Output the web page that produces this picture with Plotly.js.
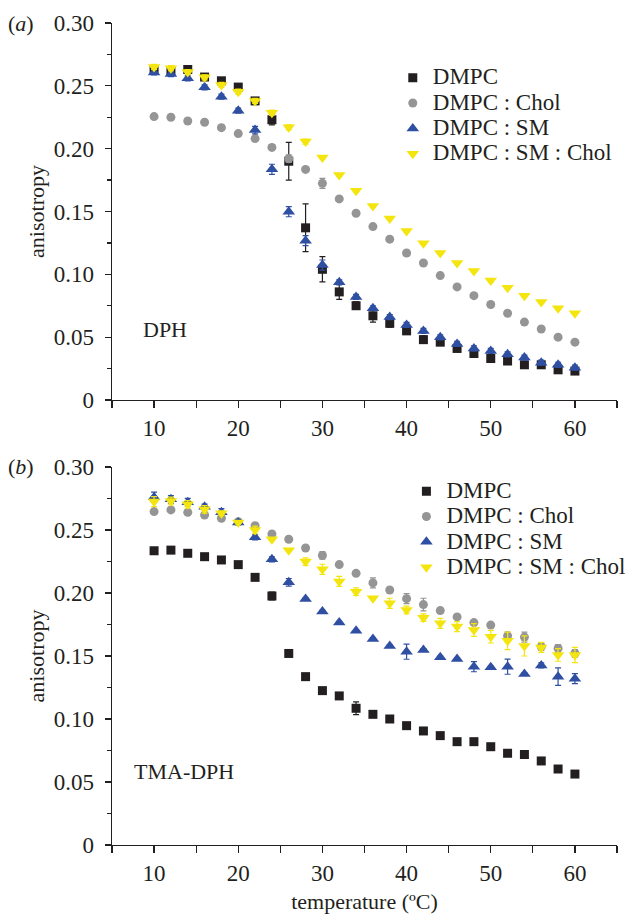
<!DOCTYPE html>
<html><head><meta charset="utf-8">
<script src="https://cdn.plot.ly/plotly-3.0.1.min.js"></script>
<style>html,body{margin:0;padding:0;background:#fff}#chart{width:628px;height:914px}</style>
</head><body><div id="chart"></div>
<script>
const temperature = [10,12,14,16,18,20,22,24,26,28,30,32,34,36,38,40,42,44,46,48,50,52,54,56,58,60];
const seriesNames = ['DMPC', 'DMPC : Chol', 'DMPC : SM', 'DMPC : SM : Chol'];

// Panel (a): DPH
const dphDMPC     = [0.263,0.262,0.263,0.257,0.254,0.249,0.238,0.223,0.190,0.137,0.104,0.086,0.075,0.067,0.061,0.055,0.048,0.046,0.041,0.037,0.033,0.031,0.028,0.028,0.024,0.023];
const dphDMPCerr  = [0.002,0.002,0.003,0.002,0.002,0.002,0.002,0.004,0.015,0.019,0.010,0.006,0.003,0.005,0.003,0.002,0.003,0.002,0.002,0.002,0.002,0.002,0.002,0.002,0.002,0.002];
const dphChol     = [0.2255,0.225,0.222,0.221,0.2167,0.212,0.208,0.201,0.192,0.1835,0.1724,0.160,0.1486,0.138,0.128,0.117,0.109,0.099,0.090,0.083,0.076,0.069,0.062,0.0565,0.050,0.046];
const dphCholErr  = [0.001,0.001,0.001,0.001,0.001,0.001,0.001,0.002,0.003,0.001,0.004,0.001,0.001,0.001,0.001,0.001,0.001,0.001,0.001,0.001,0.001,0.001,0.001,0.001,0.001,0.002];
const dphSM       = [0.2607,0.2594,0.256,0.2488,0.2414,0.2302,0.2148,0.1836,0.1498,0.1268,0.1074,0.0936,0.082,0.073,0.066,0.0597,0.0549,0.0499,0.0446,0.041,0.039,0.0363,0.0337,0.0297,0.028,0.0257];
const dphSMerr    = [0.002,0.002,0.002,0.002,0.002,0.002,0.003,0.004,0.004,0.004,0.004,0.002,0.002,0.002,0.002,0.002,0.002,0.002,0.002,0.002,0.002,0.002,0.002,0.002,0.002,0.002];
const dphSMChol   = [0.265,0.264,0.261,0.2568,0.2507,0.2453,0.238,0.2286,0.217,0.2056,0.193,0.179,0.1666,0.1544,0.1445,0.1345,0.1247,0.117,0.109,0.1026,0.095,0.0894,0.083,0.078,0.073,0.069];
const dphSMCholErr= [0.002,0.002,0.002,0.002,0.002,0.002,0.002,0.002,0.002,0.002,0.001,0.001,0.001,0.001,0.001,0.001,0.001,0.001,0.001,0.001,0.001,0.001,0.001,0.001,0.001,0.001];

// Panel (b): TMA-DPH
const tmaDMPC     = [0.2335,0.234,0.2315,0.2288,0.2262,0.2225,0.2124,0.1976,0.152,0.1336,0.1225,0.1183,0.1085,0.1037,0.100,0.0947,0.0905,0.0868,0.082,0.082,0.078,0.0728,0.0718,0.0667,0.0603,0.0563];
const tmaDMPCerr  = [0.001,0.001,0.001,0.001,0.001,0.001,0.002,0.003,0.001,0.001,0.001,0.001,0.005,0.001,0.001,0.001,0.001,0.001,0.001,0.001,0.001,0.001,0.001,0.001,0.001,0.001];
const tmaChol     = [0.2646,0.2659,0.264,0.2619,0.2593,0.2566,0.2534,0.2468,0.2426,0.2357,0.2298,0.2225,0.2156,0.208,0.2024,0.1955,0.1908,0.186,0.181,0.1765,0.1745,0.166,0.165,0.1574,0.156,0.152];
const tmaCholErr  = [0.001,0.001,0.001,0.001,0.001,0.001,0.001,0.001,0.001,0.001,0.003,0.001,0.001,0.004,0.001,0.004,0.005,0.002,0.001,0.001,0.001,0.003,0.004,0.003,0.003,0.003];
const tmaSM       = [0.276,0.2743,0.272,0.2685,0.264,0.256,0.2442,0.2267,0.2085,0.1952,0.1852,0.1765,0.170,0.1635,0.158,0.1534,0.1548,0.149,0.1476,0.1415,0.141,0.1415,0.1357,0.1425,0.1336,0.132];
const tmaSMerr    = [0.004,0.003,0.003,0.002,0.003,0.002,0.002,0.002,0.003,0.001,0.001,0.001,0.001,0.001,0.001,0.006,0.001,0.001,0.001,0.004,0.001,0.006,0.001,0.002,0.007,0.004];
const tmaSMChol   = [0.2725,0.273,0.2704,0.2664,0.2632,0.256,0.25,0.2426,0.234,0.2249,0.2188,0.2092,0.201,0.1958,0.1918,0.1865,0.1804,0.1759,0.1733,0.1706,0.1653,0.162,0.158,0.1568,0.1508,0.1508];
const tmaSMCholErr= [0.004,0.003,0.003,0.003,0.002,0.001,0.003,0.001,0.001,0.003,0.004,0.004,0.003,0.001,0.004,0.003,0.003,0.004,0.004,0.005,0.005,0.007,0.008,0.004,0.005,0.006];

const yTickVals = [0,0.05,0.10,0.15,0.20,0.25,0.30];
const yTickText = ['0','0.05','0.10','0.15','0.20','0.25','0.30'];
const xTickVals = [10,20,30,40,50,60];
const xTickText = ['10','20','30','40','50','60'];

const styles = [
  {color:'#231f20', symbol:'square', size:9},
  {color:'#959595', symbol:'circle', size:9},
  {color:'#2f4fa2', symbol:'triangle-up', size:11},
  {color:'#f4e50f', symbol:'triangle-down', size:11}
];

function mk(y, err, i, xa, ya, leg) {
  const s = styles[i];
  return {
    x: temperature, y: y, type: 'scatter', mode: 'markers',
    name: '<span style="font-size:23px">' + seriesNames[i] + '</span>',
    xaxis: xa, yaxis: ya, legend: leg,
    marker: {color: s.color, symbol: s.symbol, size: s.size, line: {width: 0}},
    error_y: {type: 'data', array: err, visible: true, color: s.color, thickness: 1.2, width: 3}
  };
}

const data = [
  mk(dphDMPC, dphDMPCerr, 0, 'x', 'y', 'legend'),
  mk(dphChol, dphCholErr, 1, 'x', 'y', 'legend'),
  mk(dphSM, dphSMerr, 2, 'x', 'y', 'legend'),
  mk(dphSMChol, dphSMCholErr, 3, 'x', 'y', 'legend'),
  mk(tmaDMPC, tmaDMPCerr, 0, 'x2', 'y2', 'legend2'),
  mk(tmaChol, tmaCholErr, 1, 'x2', 'y2', 'legend2'),
  mk(tmaSM, tmaSMerr, 2, 'x2', 'y2', 'legend2'),
  mk(tmaSMChol, tmaSMCholErr, 3, 'x2', 'y2', 'legend2')
];

const F = 'Liberation Serif';
const tickFont = {family: F, size: 23, color: '#231f20'};

function xax(anchor, withTitle) {
  const a = {
    anchor: anchor, domain: [0, 1], range: [5, 65], showgrid: false, zeroline: false,
    showline: true, linecolor: '#231f20', linewidth: 1.3,
    ticks: 'outside', ticklen: 7, tickwidth: 1.2, tickcolor: '#231f20',
    tickmode: 'array', tickvals: xTickVals, ticktext: xTickText, tickfont: tickFont,
    minor: {ticks: 'outside', ticklen: 7, tickwidth: 1.2, tickcolor: '#231f20', dtick: 5, tick0: 5, showgrid: false}
  };
  if (withTitle) a.title = {text: 'temperature (ºC)', font: {family: F, size: 22, color: '#231f20'}, standoff: 11};
  return a;
}
function yax(anchor, domain) {
  return {
    anchor: anchor, domain: domain, range: [0, 0.30], showgrid: false, zeroline: false,
    showline: true, linecolor: '#231f20', linewidth: 1.3,
    ticks: 'outside', ticklen: 6, tickwidth: 1.2, tickcolor: '#231f20',
    tickmode: 'array', tickvals: yTickVals, ticktext: yTickText, tickfont: tickFont,
    ticklabelstandoff: 6,
    minor: {ticks: 'outside', ticklen: 4, tickwidth: 1.2, tickcolor: '#231f20', dtick: 0.025, tick0: 0, showgrid: false},
    title: {text: 'anisotropy', font: {family: F, size: 22, color: '#231f20'}, standoff: 3}
  };
}

const legFont = {family: F, size: 17.2, color: '#231f20'};
const layout = {
  width: 628, height: 914,
  margin: {l: 112, r: 11, t: 23, b: 69, autoexpand: false},
  paper_bgcolor: '#ffffff', plot_bgcolor: '#ffffff',
  showlegend: true,
  xaxis: xax('y', false),
  yaxis: yax('x', [0.5414, 1]),
  xaxis2: xax('y2', true),
  yaxis2: yax('x2', [0, 0.4599]),
  legend: {x: 0.556, y: 0.955, xanchor: 'left', yanchor: 'top', font: legFont, bgcolor: 'rgba(0,0,0,0)', tracegroupgap: 0},
  legend2: {x: 0.583, y: 0.452, xanchor: 'left', yanchor: 'top', font: legFont, bgcolor: 'rgba(0,0,0,0)', tracegroupgap: 0},
  annotations: [
    {xref: 'x', yref: 'y', x: 11.3, y: 0.0557, text: 'DPH', showarrow: false, xanchor: 'center', yanchor: 'middle', font: {family: F, size: 22, color: '#231f20'}},
    {xref: 'x2', yref: 'y2', x: 13.6, y: 0.0587, text: 'TMA-DPH', showarrow: false, xanchor: 'center', yanchor: 'middle', font: {family: F, size: 22, color: '#231f20'}},
    {xref: 'paper', yref: 'paper', x: -0.18, y: 1, text: '(<i>a</i>)', showarrow: false, xanchor: 'center', yanchor: 'middle', font: {family: F, size: 22, color: '#231f20'}},
    {xref: 'paper', yref: 'paper', x: -0.18, y: 0.4599, text: '(<i>b</i>)', showarrow: false, xanchor: 'center', yanchor: 'middle', font: {family: F, size: 22, color: '#231f20'}}
  ]
};

Plotly.newPlot('chart', data, layout, {displayModeBar: false, staticPlot: true});
</script></body></html>
